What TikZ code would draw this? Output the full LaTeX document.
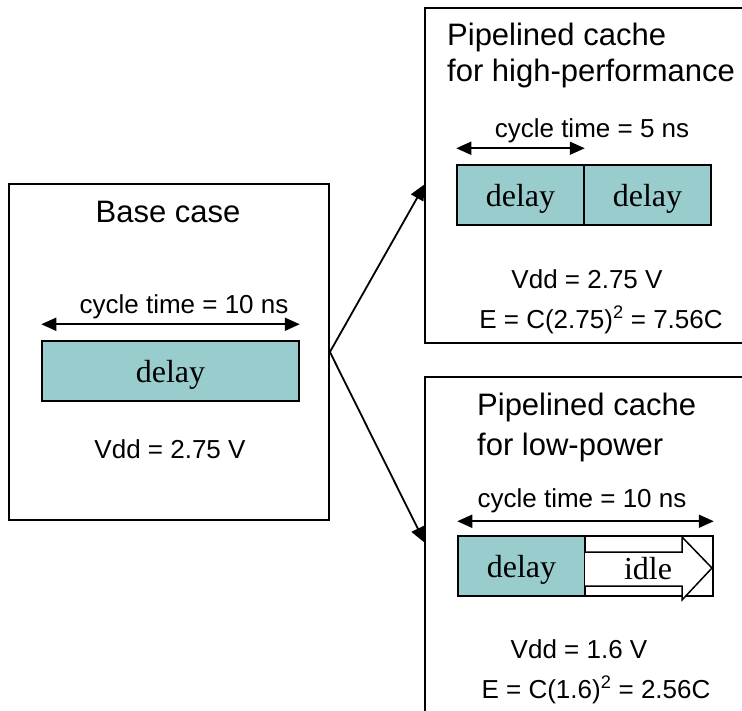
\documentclass[tikz,border=0pt]{standalone}
\usepackage{fontspec}
\setmainfont{Liberation Sans}
\newfontfamily\barfont{Liberation Serif}
\usetikzlibrary{arrows.meta}
\definecolor{barfill}{RGB}{153,204,204}

\begin{document}
\begin{tikzpicture}[x=1pt,y=-1pt,
  panel/.style={draw, line width=1.8pt, inner sep=0pt},
  bartext/.style={inner sep=0pt, text height=22pt, text depth=0pt,
    font=\barfont\fontsize{32}{36}\selectfont},
  bar/.style={bartext, draw, line width=1.5pt, fill=barfill, minimum height=60pt},
  idlebar/.style={bar, fill=white},
  title/.style={inner sep=0pt, anchor=base west, font=\fontsize{31}{36}\selectfont},
  titlec/.style={title, anchor=base},
  label/.style={inner sep=0pt, anchor=base, font=\fontsize{26}{30}\selectfont},
  dim/.style={line width=1.8pt, {Triangle[length=15pt,width=13pt]}-{Triangle[length=15pt,width=13pt]}},
  conn/.style={line width=1.8pt, -{Triangle[length=16pt,width=14pt]}}]
\useasboundingbox (0,0) rectangle (742,710);
\clip (0,0) rectangle (742,710);

% ---- panels ----
\node[panel, minimum width=320pt, minimum height=336pt] (base) at (169,352) {};
\node[panel, minimum width=345pt, minimum height=335pt] (hp) at (597.5,175.5) {};
\node[panel, minimum width=345pt, minimum height=353pt] (lp) at (597.5,553.5) {};

% ---- base case ----
\node[titlec] (basetitle) at (168,222) {Base case};
\node[bar, minimum width=257pt] (basebar) at (170.5,371) {delay};
\draw[dim] ([yshift=16pt]basebar.north west) -- ([yshift=16pt]basebar.north east);
\node[label] (basecyc) at (184,313) {cycle time = 10 ns};
\node[label] (basevdd) at (170,458) {Vdd = 2.75 V};

% ---- pipelined, high performance ----
\node[title] (hptitleA) at (447,45) {Pipelined cache};
\node[title] (hptitleB) at (447,81) {for high-performance};
\node[bar, minimum width=127pt] (hpbarA) at (520.5,195) {delay};
\node[bar, minimum width=127pt] (hpbarB) at (647.5,195) {delay};
\draw[dim] ([yshift=16pt]hpbarA.north west) -- ([yshift=16pt]hpbarA.north east);
\node[label] (hpcyc) at (592,137) {cycle time = 5 ns};
\node[label] (hpvdd) at (587,288) {Vdd = 2.75 V};
\node[label] (hpe) at (601,328) {E = C(2.75)\textsuperscript{2} = 7.56C};

% ---- pipelined, low power ----
\node[title] (lptitleA) at (477,415) {Pipelined cache};
\node[title] (lptitleB) at (477,455) {for low-power};
\node[bar, minimum width=127pt] (lpbarA) at (521.5,566) {};
\node[idlebar, minimum width=128pt] (lpbarB) at (649,566) {};
\draw[line width=1.5pt, fill=white]
  (585,552) -- (682,552) -- (682,537) -- (712,568) -- (682,600) -- (682,586) -- (585,586);
\node[bartext] (lpdelay) at (lpbarA.center) {delay};
\node[bartext] (lpidle) at (648,568) {idle};
\draw[dim] ([yshift=14pt]lpbarA.north west) -- ([yshift=14pt]lpbarB.north east);
\node[label] (lpcyc) at (582,507) {cycle time = 10 ns};
\node[label] (lpvdd) at (579,658) {Vdd = 1.6 V};
\node[label] (lpe) at (596,698) {E = C(1.6)\textsuperscript{2} = 2.56C};

% ---- connectors ----
\coordinate (hpin) at (425,184);
\coordinate (lpin) at (425,543);
\draw[conn] (base.east) -- (hpin);
\draw[conn] (base.east) -- (lpin);
\end{tikzpicture}
\end{document}
